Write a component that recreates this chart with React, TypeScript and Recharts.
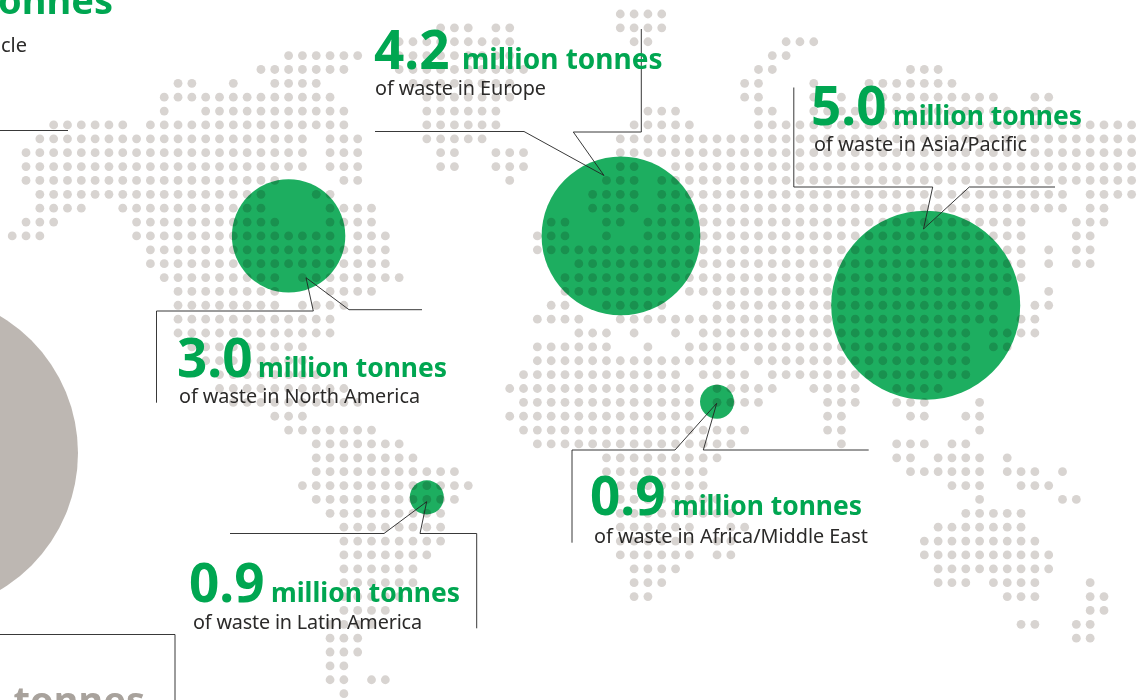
import React from 'react';
import { ScatterChart, Scatter, XAxis, YAxis } from 'recharts';

// map dots: one entry per grid row, each row is a list of [fromColumn, toColumn] runs
const MAP_ROWS: number[][][] = [
  [[44, 47]],
  [[31, 33], [35, 36], [44, 47]],
  [[28, 36], [45, 46], [56, 58]],
  [[20, 25], [28, 36], [55, 56]],
  [[18, 24], [28, 37], [54, 55], [65, 67]],
  [[12, 13], [16, 16], [19, 22], [29, 36], [53, 54], [58, 58], [62, 68]],
  [[11, 23], [30, 36], [53, 54], [58, 58], [60, 60], [62, 71], [74, 75]],
  [[11, 11], [14, 24], [30, 35], [46, 48], [54, 55], [58, 72], [74, 75]],
  [[3, 8], [10, 24], [30, 35], [45, 49], [54, 81]],
  [[2, 21], [23, 25], [30, 34], [44, 81]],
  [[1, 21], [23, 25], [31, 32], [35, 37], [44, 81]],
  [[1, 21], [23, 25], [31, 32], [35, 37], [44, 45], [48, 81]],
  [[1, 19], [24, 25], [36, 36], [43, 45], [47, 81]],
  [[2, 18], [22, 23], [42, 45], [47, 76], [78, 81]],
  [[2, 5], [8, 18], [23, 26], [42, 45], [47, 76], [78, 79]],
  [[1, 3], [9, 19], [23, 26], [39, 40], [43, 44], [46, 73], [77, 79]],
  [[0, 2], [9, 23], [25, 27], [38, 40], [43, 43], [46, 73], [77, 78]],
  [[10, 27], [38, 73], [75, 75], [77, 78]],
  [[10, 27], [41, 73], [75, 75], [77, 78]],
  [[11, 19], [21, 28], [40, 73]],
  [[12, 19], [23, 26], [40, 47], [49, 72], [75, 75]],
  [[12, 19], [21, 24], [39, 40], [43, 47], [51, 71], [74, 75]],
  [[12, 23], [38, 41], [44, 71], [73, 74]],
  [[12, 23], [41, 43], [45, 45], [48, 48], [50, 69], [71, 74]],
  [[13, 21], [38, 43], [46, 46], [49, 69], [71, 72]],
  [[14, 21], [38, 52], [54, 69]],
  [[15, 22], [37, 48], [50, 53], [55, 69]],
  [[15, 24], [36, 49], [51, 55], [58, 61], [64, 67]],
  [[16, 25], [37, 49], [51, 54], [59, 61], [64, 66], [70, 70]],
  [[19, 21], [36, 49], [59, 60], [65, 66], [69, 70]],
  [[20, 26], [37, 53], [59, 60], [70, 70]],
  [[22, 28], [38, 52], [60, 60], [64, 66], [68, 69]],
  [[22, 29], [43, 51], [64, 65], [67, 70], [72, 72]],
  [[22, 32], [43, 50], [65, 70], [72, 74], [76, 76]],
  [[21, 33], [44, 50], [68, 70], [73, 75]],
  [[22, 32], [44, 51], [70, 70], [76, 77]],
  [[23, 31], [44, 52], [69, 73]],
  [[24, 31], [44, 49], [52, 53], [67, 73]],
  [[24, 31], [44, 49], [51, 52], [66, 74]],
  [[24, 30], [44, 49], [51, 52], [66, 75]],
  [[24, 29], [45, 48], [67, 75]],
  [[24, 29], [45, 47], [67, 69], [71, 74], [78, 78]],
  [[24, 28], [45, 46], [72, 74], [78, 79]],
  [[24, 27], [78, 79]],
  [[23, 26], [73, 74], [77, 78]],
  [[23, 25], [77, 78]],
  [[23, 25]],
  [[23, 24]],
  [[23, 24], [26, 27]],
  [[24, 24]],
];

const REGIONS = ['North America', 'Europe', 'Asia/Pacific', 'Africa/Middle East', 'Latin America'];
const WASTE = [3.0, 4.2, 5.0, 0.9, 0.9];
const BUBBLE_COLUMN = [20, 44.05, 66.1, 51, 30];
const BUBBLE_ROW = [16, 16, 21, 27.95, 34.85];

const mapDots = MAP_ROWS.flatMap((runs, row) =>
  runs.flatMap(([from, to]) => {
    const dots = [];
    for (let col = from; col <= to; col++) dots.push({ col, row });
    return dots;
  })
);

const bubbles = REGIONS.map((region, i) => ({
  region,
  waste: WASTE[i],
  col: BUBBLE_COLUMN[i],
  row: BUBBLE_ROW[i],
}));

const GREEN = '#00a651';
const FONT = '"Noto Sans", sans-serif';

// grid pitch in px, bubble radius grows linearly with the tonnage
const COL_PX = 13.82;
const ROW_PX = 13.87;
const COL_0 = 12.2;
const ROW_0 = 14;
const RADIUS_PER_MT = 18.9;

const WIDTH = 1146;
const HEIGHT = 700;

const Callout = ({ value, region, x, millionX, subX, subW, y, subY, big = 53, mid = 26.4 }: any) => (
  <g fontFamily={FONT}>
    <text x={x} y={y} fontSize={big} fontWeight={700} fill={GREEN}>{value}</text>
    <text x={millionX} y={y} fontSize={mid} fontWeight={700} fill={GREEN}>million tonnes</text>
    <text x={subX} y={subY} fontSize={19.8} fill="#2b2a29" textLength={subW} lengthAdjust="spacing">
      of waste in {region}
    </text>
  </g>
);

const Leader = ({ points }: { points: string }) => (
  <polyline points={points} fill="none" stroke="#222" strokeWidth={0.9} />
);

export default function App() {
  return (
    <div style={{ position: 'absolute', left: 0, top: 0, width: WIDTH, height: HEIGHT, overflow: 'hidden' }}>
      <ScatterChart width={WIDTH} height={HEIGHT} margin={{ top: 0, right: 0, bottom: 0, left: 0 }}>
        <XAxis type="number" dataKey="col" hide domain={[-COL_0 / COL_PX, (WIDTH - COL_0) / COL_PX]} />
        <YAxis type="number" dataKey="row" hide reversed domain={[-ROW_0 / ROW_PX, (HEIGHT - ROW_0) / ROW_PX]} />
        <Scatter
          data={mapDots}
          isAnimationActive={false}
          shape={(p: any) => <circle cx={p.cx} cy={p.cy} r={4.4} fill="#d8d4d1" />}
        />
        <Scatter
          data={bubbles}
          isAnimationActive={false}
          shape={(p: any) => (
            <circle
              cx={p.cx}
              cy={p.cy}
              r={p.payload.waste * RADIUS_PER_MT}
              fill="#1dae60"
              style={{ mixBlendMode: 'multiply' }}
            />
          )}
        />
      </ScatterChart>

      {/* callouts sit above the series, so they get their own layer */}
      <svg width={WIDTH} height={HEIGHT} style={{ position: 'absolute', left: 0, top: 0 }}>
        <circle cx={-81.3} cy={453} r={159.3} fill="#bdb7b2" />

        <line x1={0} y1={130.5} x2={68} y2={130.5} stroke="#222" strokeWidth={0.9} />
        <polyline points="0,634.5 175,634.5 175,700" fill="none" stroke="#222" strokeWidth={0.9} />

        <Leader points="375,131.5 524,131.5 604,175.5 573.3,132 641.3,132 641.3,29" />
        <Leader points="793.8,87.5 793.8,187 932.7,187 923.5,229 969.3,187 1055,187" />
        <Leader points="156.5,402.7 156.5,311 313.3,311 306,277.7 349,309.7 422,309.7" />
        <Leader points="572,542.7 572,450 675,450 716.7,403.3 703.3,450 868.7,450" />
        <Leader points="230,533.5 384,533.5 426.7,501.7 420,533.5 476.7,533.5 476.7,628.3" />

        <text x={113} y={13.5} textAnchor="end" fontFamily={FONT} fontSize={38} fontWeight={700} fill={GREEN}>tonnes</text>
        <text x={27} y={52} textAnchor="end" fontFamily={FONT} fontSize={20} fill="#2b2a29">of waste by vehicle</text>
        <text x={145} y={714} textAnchor="end" fontFamily={FONT} fontSize={38} fontWeight={700} fill="#a8a29c">tonnes</text>

        <Callout value="4.2" region="Europe" x={374} millionX={462} subX={375} subW={171} y={68.5} subY={95} mid={28} />
        <Callout value="5.0" region="Asia/Pacific" x={811} millionX={893} subX={814} subW={213} y={125} subY={151} />
        <Callout value="3.0" region="North America" x={177} millionX={258} subX={179} subW={241} y={377} subY={403} />
        <Callout value="0.9" region="Africa/Middle East" x={590} millionX={673} subX={594} subW={274} y={515} subY={543} />
        <Callout value="0.9" region="Latin America" x={189} millionX={271} subX={193} subW={229} y={602} subY={629} />
      </svg>
    </div>
  );
}
